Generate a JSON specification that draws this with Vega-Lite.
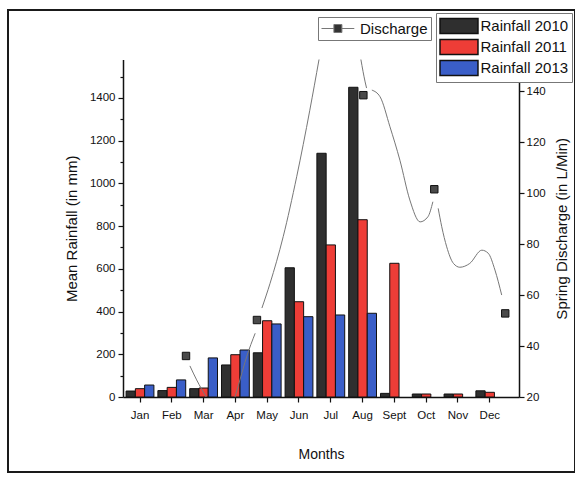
{
  "$schema": "https://vega.github.io/schema/vega-lite/v6.json",
  "width": 567,
  "height": 462,
  "autosize": {"type": "none"},
  "padding": {"left": 8, "top": 10, "right": 0, "bottom": 5},
  "background": "white",
  "config": {
    "font": "Liberation Sans",
    "view": {"stroke": "#1a1a1a", "strokeWidth": 2},
    "axis": {
      "domainColor": "#111",
      "domainWidth": 1.5,
      "tickColor": "#111",
      "tickWidth": 1.2,
      "labelColor": "#111",
      "titleColor": "#111",
      "labelFont": "Liberation Sans",
      "titleFont": "Liberation Sans",
      "titleFontWeight": "normal",
      "labelFontSize": 11.5,
      "titleFontSize": 15,
      "grid": false
    }
  },
  "datasets": {
    "rainfall": [
      {"month": "Jan", "series": "Rainfall 2010", "rainfall": 28},
      {"month": "Jan", "series": "Rainfall 2011", "rainfall": 39},
      {"month": "Jan", "series": "Rainfall 2013", "rainfall": 56},
      {"month": "Feb", "series": "Rainfall 2010", "rainfall": 30},
      {"month": "Feb", "series": "Rainfall 2011", "rainfall": 45},
      {"month": "Feb", "series": "Rainfall 2013", "rainfall": 80},
      {"month": "Mar", "series": "Rainfall 2010", "rainfall": 39},
      {"month": "Mar", "series": "Rainfall 2011", "rainfall": 42},
      {"month": "Mar", "series": "Rainfall 2013", "rainfall": 183},
      {"month": "Apr", "series": "Rainfall 2010", "rainfall": 150},
      {"month": "Apr", "series": "Rainfall 2011", "rainfall": 198},
      {"month": "Apr", "series": "Rainfall 2013", "rainfall": 220},
      {"month": "May", "series": "Rainfall 2010", "rainfall": 207},
      {"month": "May", "series": "Rainfall 2011", "rainfall": 357},
      {"month": "May", "series": "Rainfall 2013", "rainfall": 342},
      {"month": "Jun", "series": "Rainfall 2010", "rainfall": 605},
      {"month": "Jun", "series": "Rainfall 2011", "rainfall": 446},
      {"month": "Jun", "series": "Rainfall 2013", "rainfall": 376},
      {"month": "Jul", "series": "Rainfall 2010", "rainfall": 1141},
      {"month": "Jul", "series": "Rainfall 2011", "rainfall": 712},
      {"month": "Jul", "series": "Rainfall 2013", "rainfall": 384},
      {"month": "Aug", "series": "Rainfall 2010", "rainfall": 1450},
      {"month": "Aug", "series": "Rainfall 2011", "rainfall": 830},
      {"month": "Aug", "series": "Rainfall 2013", "rainfall": 392},
      {"month": "Sept", "series": "Rainfall 2010", "rainfall": 17},
      {"month": "Sept", "series": "Rainfall 2011", "rainfall": 626},
      {"month": "Oct", "series": "Rainfall 2010", "rainfall": 14},
      {"month": "Oct", "series": "Rainfall 2011", "rainfall": 14},
      {"month": "Nov", "series": "Rainfall 2010", "rainfall": 14},
      {"month": "Nov", "series": "Rainfall 2011", "rainfall": 14},
      {"month": "Dec", "series": "Rainfall 2010", "rainfall": 29},
      {"month": "Dec", "series": "Rainfall 2011", "rainfall": 22}
    ],
    "discharge": [
      {"month": 3, "discharge": 36.1},
      {"month": 5, "discharge": 50.2},
      {"month": 8, "discharge": 138.4},
      {"month": 10, "discharge": 101.5},
      {"month": 12, "discharge": 52.8}
    ],
    "dischargeCurve": [
      {"segment": "A", "month": 3.11, "discharge": 32.2},
      {"segment": "A", "month": 3.30, "discharge": 26.7},
      {"segment": "A", "month": 3.57, "discharge": 20.0},
      {"segment": "B", "month": 4.38, "discharge": 20.0},
      {"segment": "B", "month": 4.52, "discharge": 26.7},
      {"segment": "B", "month": 4.71, "discharge": 35.8},
      {"segment": "B", "month": 4.95, "discharge": 45.0},
      {"segment": "C", "month": 5.14, "discharge": 54.9},
      {"segment": "C", "month": 5.37, "discharge": 64.6},
      {"segment": "C", "month": 5.74, "discharge": 82.9},
      {"segment": "C", "month": 6.12, "discharge": 106.4},
      {"segment": "C", "month": 6.49, "discharge": 132.5},
      {"segment": "C", "month": 6.75, "discharge": 152.4},
      {"segment": "D", "month": 7.93, "discharge": 152.4},
      {"segment": "D", "month": 8.05, "discharge": 143.6},
      {"segment": "D", "month": 8.09, "discharge": 141.2},
      {"segment": "E", "month": 8.24, "discharge": 140.4},
      {"segment": "E", "month": 8.47, "discharge": 137.8},
      {"segment": "E", "month": 8.75, "discharge": 126.0},
      {"segment": "E", "month": 9.03, "discharge": 112.9},
      {"segment": "E", "month": 9.31, "discharge": 97.3},
      {"segment": "E", "month": 9.60, "discharge": 88.7},
      {"segment": "E", "month": 9.82, "discharge": 90.7},
      {"segment": "E", "month": 9.96, "discharge": 96.6},
      {"segment": "F", "month": 10.11, "discharge": 94.0},
      {"segment": "F", "month": 10.21, "discharge": 86.8},
      {"segment": "F", "month": 10.35, "discharge": 78.9},
      {"segment": "F", "month": 10.54, "discharge": 72.4},
      {"segment": "F", "month": 10.72, "discharge": 70.9},
      {"segment": "F", "month": 11.00, "discharge": 72.4},
      {"segment": "F", "month": 11.34, "discharge": 77.6},
      {"segment": "F", "month": 11.52, "discharge": 76.4},
      {"segment": "F", "month": 11.71, "discharge": 69.8},
      {"segment": "F", "month": 11.90, "discharge": 60.0}
    ]
  },
  "layer": [
    {
      "data": {"name": "rainfall"},
      "mark": {"type": "bar", "stroke": "#111", "strokeWidth": 1},
      "encoding": {
        "x": {
          "field": "month",
          "type": "nominal",
          "sort": ["Jan", "Feb", "Mar", "Apr", "May", "Jun", "Jul", "Aug", "Sept", "Oct", "Nov", "Dec"],
          "scale": {"range": [115, 511], "paddingInner": 0.125, "paddingOuter": 0.289, "align": 0.168},
          "axis": {
            "orient": "bottom",
            "offset": -75,
            "title": "Months",
            "titleFontSize": 14,
            "titlePadding": 27,
            "labelAngle": 0,
            "labelFontSize": 11.5,
            "tickSize": 5,
            "labelPadding": 7
          }
        },
        "xOffset": {
          "field": "series",
          "type": "nominal",
          "sort": ["Rainfall 2010", "Rainfall 2011", "Rainfall 2013"],
          "scale": {"paddingInner": 0, "paddingOuter": 0}
        },
        "y": {
          "field": "rainfall",
          "type": "quantitative",
          "scale": {"domain": [0, 1580], "range": [387, 49.5], "nice": false},
          "axis": {
            "orient": "left",
            "offset": -115,
            "title": "Mean Rainfall (in mm)",
            "titlePadding": 10,
            "values": [0, 100, 200, 300, 400, 500, 600, 700, 800, 900, 1000, 1100, 1200, 1300, 1400, 1500],
            "labelExpr": "datum.value % 200 == 0 ? datum.label : ''",
            "format": "d",
            "tickSize": {"condition": {"test": "datum.value % 200 != 0", "value": 3}, "value": 5},
            "labelPadding": 3
          }
        },
        "color": {
          "field": "series",
          "type": "nominal",
          "scale": {
            "domain": ["Rainfall 2010", "Rainfall 2011", "Rainfall 2013"],
            "range": ["#2f2f2f", "#ee3d37", "#3a5ec8"]
          },
          "legend": {
            "title": null,
            "orient": "none",
            "legendX": 428,
            "legendY": 3,
            "direction": "vertical",
            "symbolType": "M-1,-0.833H3.22V0.833H-1Z",
            "symbolSize": 324,
            "labelFont": "Liberation Sans",
            "labelFontSize": 15,
            "labelColor": "#111",
            "labelOffset": 21.5,
            "padding": 3,
            "rowPadding": -2,
            "strokeColor": "#777",
            "fillColor": "white",
            "encode": {"symbols": {"update": {"stroke": {"value": "#222"}, "strokeWidth": {"value": 1.5}, "opacity": {"value": 1}}}}
          }
        }
      }
    },
    {
      "layer": [
        {
          "data": {"name": "dischargeCurve"},
          "mark": {"type": "line", "interpolate": "monotone", "strokeWidth": 1},
          "encoding": {
            "x": {
              "field": "month",
              "type": "quantitative",
              "scale": {"domain": [1, 13], "range": [107.07, 532.71], "nice": false, "zero": false},
              "axis": null
            },
            "y": {
              "field": "discharge",
              "type": "quantitative",
              "scale": {"domain": [20, 152.4], "range": [387, 49.5], "nice": false, "zero": false},
              "axis": {
                "orient": "right",
                "offset": -56,
                "title": "Spring Discharge (in L/Min)",
                "titleAngle": 270,
                "titlePadding": 24,
                "values": [20, 30, 40, 50, 60, 70, 80, 90, 100, 110, 120, 130, 140, 150],
                "labelExpr": "datum.value % 20 == 0 ? datum.label : ''",
                "tickSize": {"condition": {"test": "datum.value % 20 != 0", "value": 3}, "value": 5},
                "labelPadding": 2
              }
            },
            "detail": {"field": "segment"},
            "color": {
              "datum": "Discharge",
              "scale": {"range": ["#777777"]},
              "legend": {
                "title": null,
                "orient": "none",
                "legendX": 310,
                "legendY": 7,
                "symbolType": "M-1,0H0.55M1.55,0H3.1M0.55,-0.5H1.55V0.5H0.55Z",
                "symbolSize": 256,
                "labelFont": "Liberation Sans",
                "labelFontSize": 15,
                "labelColor": "#111",
                "labelOffset": 22,
                "padding": 3,
                "strokeColor": "#777",
                "fillColor": "white",
                "encode": {"symbols": {"update": {"fill": {"value": "#333"}, "stroke": {"value": "#444"}, "strokeWidth": {"value": 1}, "opacity": {"value": 1}}}}
              }
            }
          }
        },
        {
          "data": {"name": "discharge"},
          "mark": {"type": "square", "size": 55, "color": "#4a4a4a", "stroke": "#111", "strokeWidth": 1, "opacity": 1},
          "encoding": {
            "x": {
              "field": "month",
              "type": "quantitative",
              "scale": {"domain": [1, 13], "range": [107.07, 532.71], "nice": false, "zero": false}
            },
            "y": {
              "field": "discharge",
              "type": "quantitative",
              "scale": {"domain": [20, 152.4], "range": [387, 49.5], "nice": false, "zero": false}
            }
          }
        }
      ]
    }
  ],
  "resolve": {"scale": {"x": "independent", "y": "independent", "color": "independent"}}
}
